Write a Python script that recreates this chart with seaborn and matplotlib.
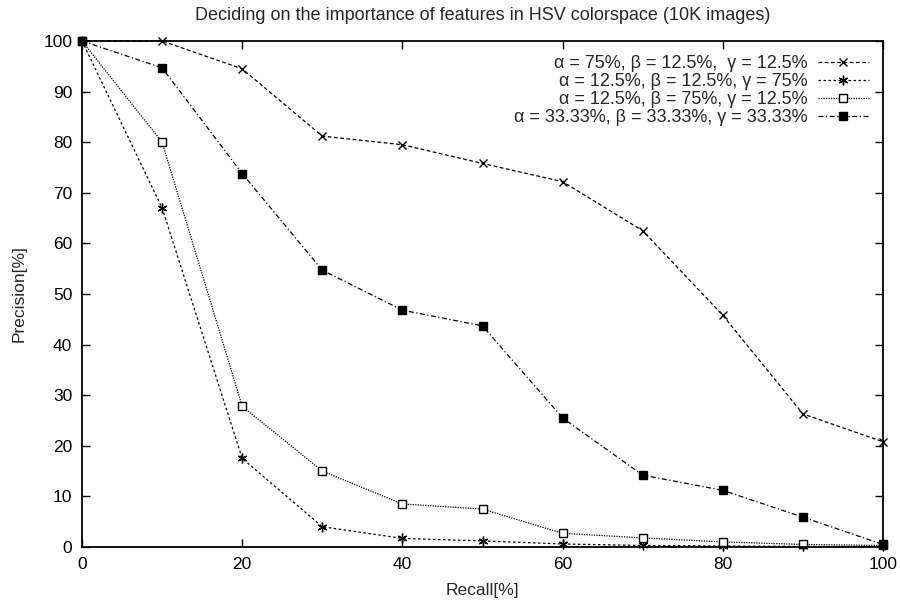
import matplotlib
matplotlib.use("Agg")
import matplotlib.pyplot as plt
import seaborn as sns
import pandas as pd

recall = [0, 10, 20, 30, 40, 50, 60, 70, 80, 90, 100]
prec_a75 = [100, 100, 94.5, 81.2, 79.5, 75.8, 72.2, 62.5, 45.8, 26.3, 20.8]
prec_g75 = [100, 67, 17.5, 4.0, 1.7, 1.2, 0.6, 0.3, 0.2, 0.1, 0.1]
prec_b75 = [100, 80, 27.8, 15.0, 8.5, 7.5, 2.7, 1.8, 1.0, 0.5, 0.3]
prec_eq = [100, 94.7, 73.8, 54.7, 46.8, 43.7, 25.5, 14.2, 11.2, 5.9, 0.5]
labels = [
    "α = 75%, β = 12.5%,  γ = 12.5%",
    "α = 12.5%, β = 12.5%, γ = 75%",
    "α = 12.5%, β = 75%, γ = 12.5%",
    "α = 33.33%, β = 33.33%, γ = 33.33%",
]
xticks = [0, 20, 40, 60, 80, 100]
yticks = [0, 10, 20, 30, 40, 50, 60, 70, 80, 90, 100]

sns.set_theme(style="ticks")
plt.rcParams['font.family'] = ['Liberation Sans', 'DejaVu Sans']

fig = plt.figure(figsize=(9, 6.03), dpi=100)
# axes box: left 82px, right 883px, top 41px, bottom 547px
ax = fig.add_axes([82 / 900, 1 - 547 / 603, (883 - 82) / 900, (547 - 41) / 603])

styles = [
    dict(linestyle=(0, (3, 2)), marker="x", markersize=6, mfc="black"),
    dict(linestyle=(0, (2, 2)), marker=(6, 2, 0), markersize=7, mfc="black"),
    dict(linestyle=(0, (1, 1)), marker="s", markersize=6, mfc="white"),
    dict(linestyle=(0, (4, 2, 1, 2)), marker="s", markersize=6, mfc="black"),
]
series = [prec_a75, prec_g75, prec_b75, prec_eq]
for ys, lab, st in zip(series, labels, styles):
    df = pd.DataFrame({"Recall": recall, "Precision": ys})
    sns.lineplot(data=df, x="Recall", y="Precision", ax=ax, color="black",
                 linewidth=0.9, label=lab, markeredgecolor="black",
                 markeredgewidth=1.0, clip_on=False, **st)

ax.set_xlim(0, 100)
ax.set_ylim(0, 100)
ax.set_xticks(xticks)
ax.set_yticks(yticks)
ax.tick_params(direction="in", length=6, width=1, top=True, right=True,
               labelsize=12.5, colors="black", pad=7)
for s in ax.spines.values():
    s.set_linewidth(1.3)
    s.set_color("black")
ax.set_xlabel("Recall[%]", fontsize=12.5, labelpad=8)
ax.set_ylabel("Precision[%]", fontsize=12.5, labelpad=12)
ax.set_title("Deciding on the importance of features in HSV colorspace (10K images)",
             fontsize=13, pad=15)
leg = ax.legend(loc="upper right", frameon=False, markerfirst=False, fontsize=13,
                handlelength=2.8, labelspacing=0.05, borderaxespad=0.5,
                handletextpad=0.6, borderpad=0.3)
for t in leg.get_texts():
    t.set_ha("right")
leg._legend_box.align = "right"

fig.savefig("out.png", dpi=100)
